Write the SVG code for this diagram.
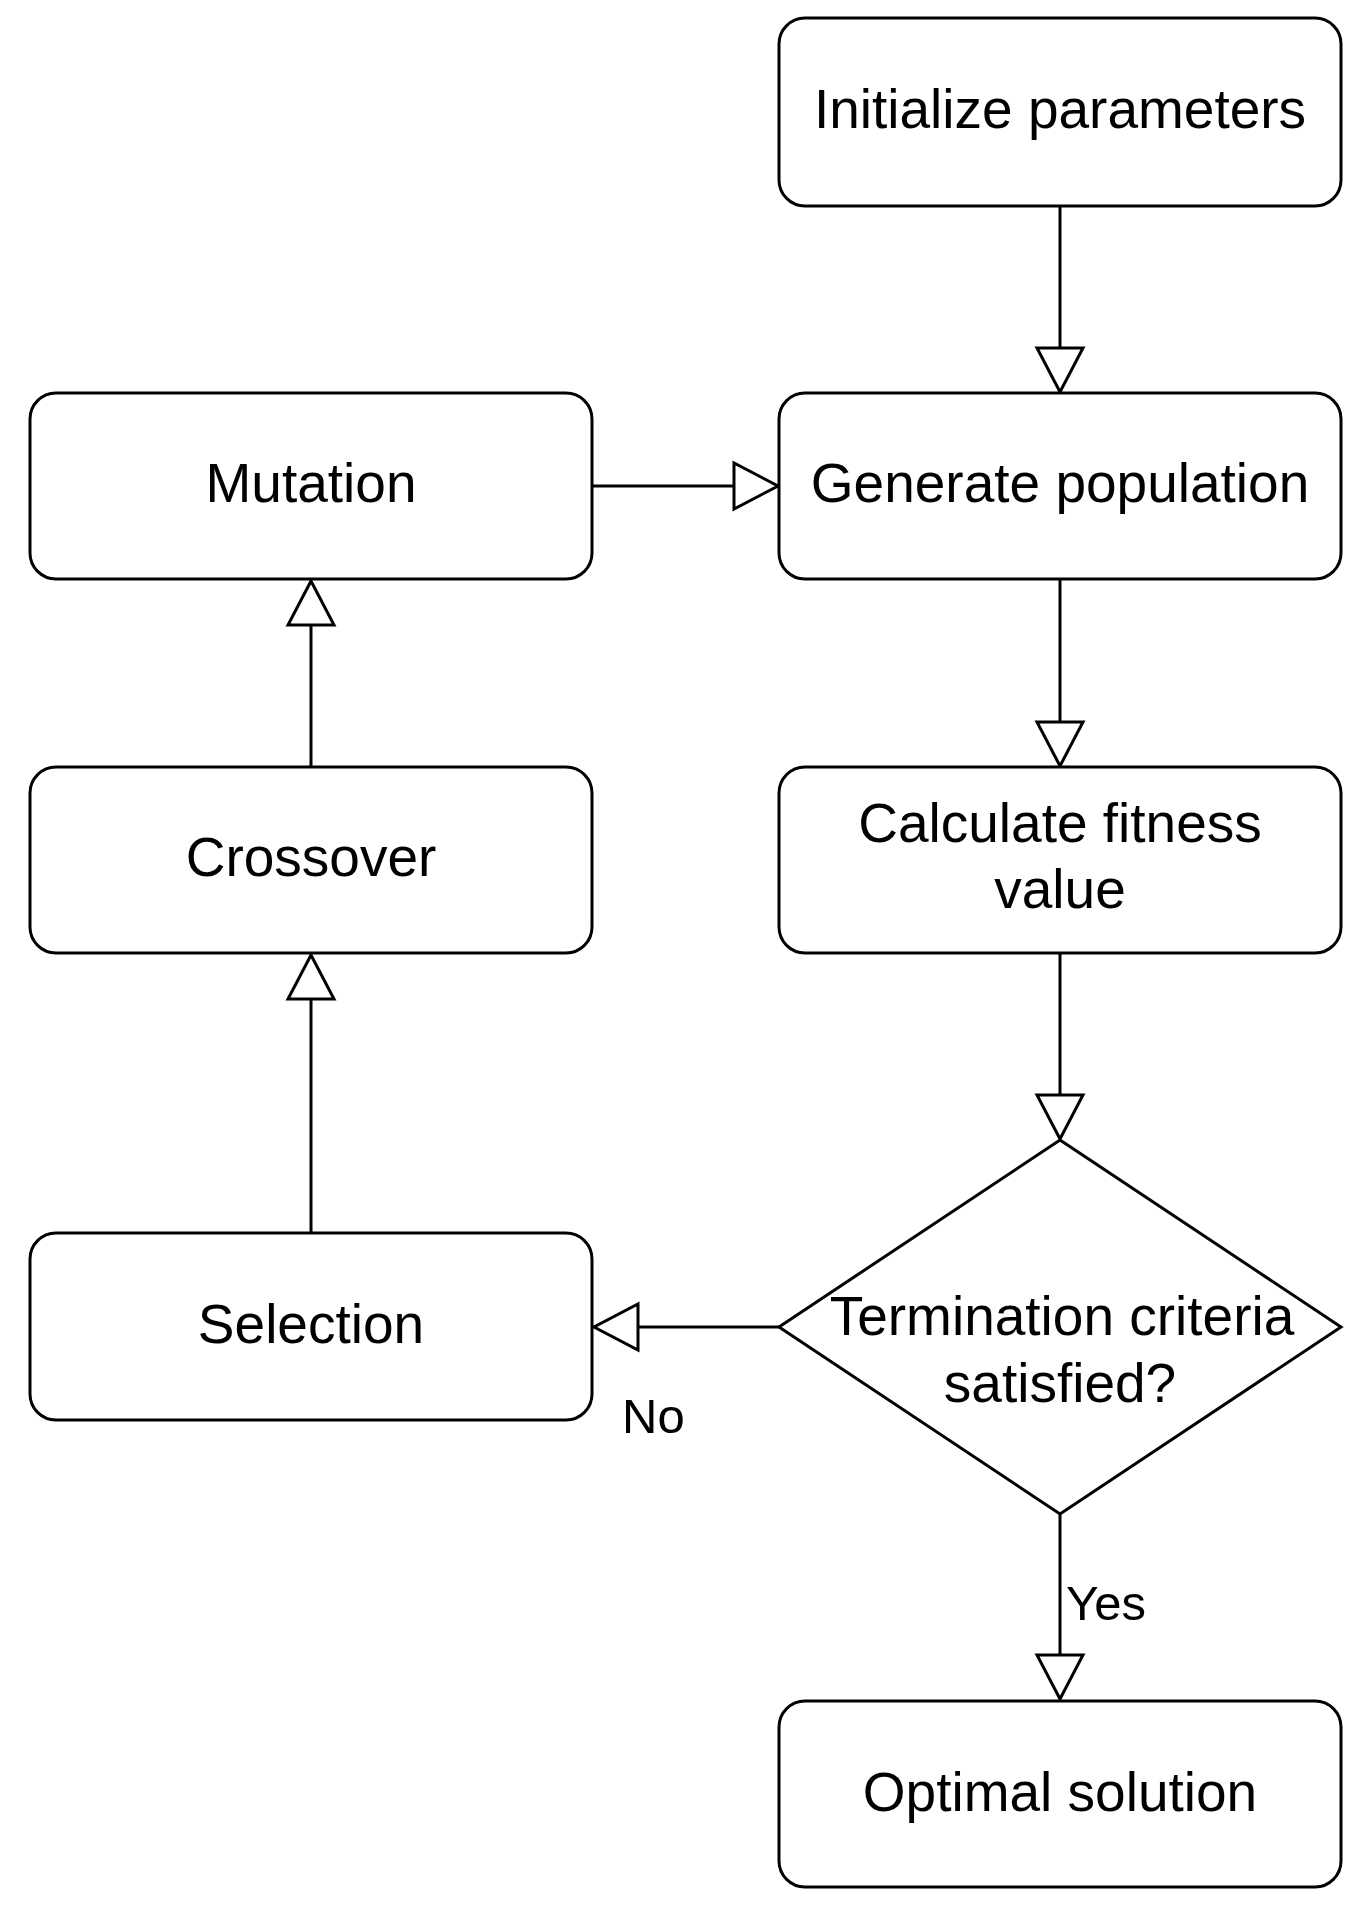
<svg xmlns="http://www.w3.org/2000/svg" width="1372" height="1914" viewBox="0 0 1372 1914">
<style>
.box{fill:#ffffff;stroke:#000000;stroke-width:3}
.lbl{font-family:"Liberation Sans",Arial,sans-serif;font-size:55px;fill:#000000;text-anchor:middle}
.elbl{font-family:"Liberation Sans",Arial,sans-serif;font-size:49px;fill:#000000}
.edge{fill:none;stroke:#000000;stroke-width:3}
.head{fill:#ffffff;stroke:#000000;stroke-width:3;stroke-linejoin:miter}
</style>
<rect width="1372" height="1914" fill="#ffffff"/>
<g id="connectors">
  <line class="edge" x1="1060" y1="206" x2="1060" y2="348"/>
  <polygon class="head" points="1037,348 1083,348 1060,392"/>
  <line class="edge" x1="592" y1="486" x2="734" y2="486"/>
  <polygon class="head" points="734,463 734,509 778,486"/>
  <line class="edge" x1="1060" y1="579" x2="1060" y2="722"/>
  <polygon class="head" points="1037,722 1083,722 1060,766"/>
  <line class="edge" x1="1060" y1="953" x2="1060" y2="1095"/>
  <polygon class="head" points="1037,1095 1083,1095 1060,1139"/>
  <line class="edge" x1="779" y1="1327" x2="638" y2="1327"/>
  <polygon class="head" points="638,1304 638,1350 594,1327"/>
  <line class="edge" x1="311" y1="1233" x2="311" y2="999"/>
  <polygon class="head" points="288,999 334,999 311,955"/>
  <line class="edge" x1="311" y1="766" x2="311" y2="625"/>
  <polygon class="head" points="288,625 334,625 311,581"/>
  <line class="edge" x1="1060" y1="1514" x2="1060" y2="1655"/>
  <polygon class="head" points="1037,1655 1083,1655 1060,1699"/>
  <text class="elbl" x="622" y="1433">No</text>
  <text class="elbl" x="1066" y="1620">Yes</text>
</g>
<g id="init">
  <rect class="box" x="779" y="18" width="562" height="188" rx="26" ry="26"/>
  <text class="lbl" x="1060" y="128">Initialize parameters</text>
</g>
<g id="generate">
  <rect class="box" x="779" y="393" width="562" height="186" rx="26" ry="26"/>
  <text class="lbl" x="1060" y="502">Generate population</text>
</g>
<g id="mutation">
  <rect class="box" x="30" y="393" width="562" height="186" rx="26" ry="26"/>
  <text class="lbl" x="311" y="502">Mutation</text>
</g>
<g id="fitness">
  <rect class="box" x="779" y="767" width="562" height="186" rx="26" ry="26"/>
  <text class="lbl" x="1060" y="842">Calculate fitness</text>
  <text class="lbl" x="1060" y="908">value</text>
</g>
<g id="crossover">
  <rect class="box" x="30" y="767" width="562" height="186" rx="26" ry="26"/>
  <text class="lbl" x="311" y="876">Crossover</text>
</g>
<g id="decision">
  <polygon class="box" points="1060,1140 1341,1327 1060,1514 779,1327"/>
  <text class="lbl" x="1062" y="1335">Termination criteria</text>
  <text class="lbl" x="1060" y="1402">satisfied?</text>
</g>
<g id="selection">
  <rect class="box" x="30" y="1233" width="562" height="187" rx="26" ry="26"/>
  <text class="lbl" x="311" y="1343">Selection</text>
</g>
<g id="optimal">
  <rect class="box" x="779" y="1701" width="562" height="186" rx="26" ry="26"/>
  <text class="lbl" x="1060" y="1811">Optimal solution</text>
</g>
</svg>
